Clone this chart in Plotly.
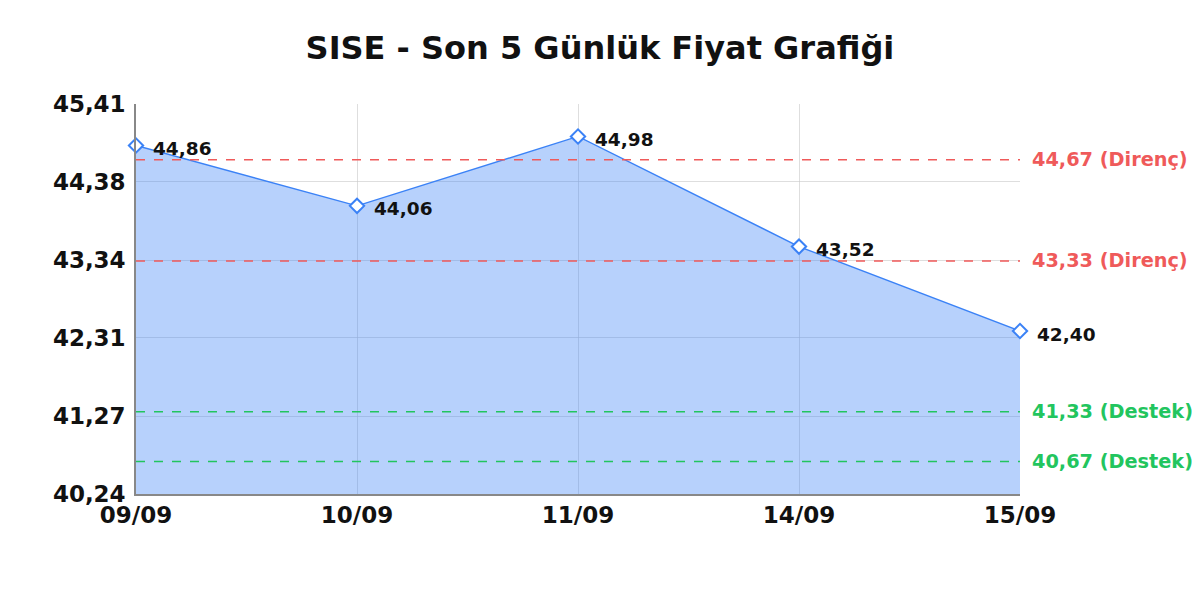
import plotly.graph_objects as go

dates = ["09/09", "10/09", "11/09", "14/09", "15/09"]
prices = [44.86, 44.06, 44.98, 43.52, 42.40]
price_labels = ["44,86", "44,06", "44,98", "43,52", "42,40"]
y_ticks = [40.24, 41.27, 42.31, 43.34, 44.38, 45.41]
y_tick_labels = ["40,24", "41,27", "42,31", "43,34", "44,38", "45,41"]
resistance = [44.67, 43.33]
resistance_labels = ["44,67 (Direnç)", "43,33 (Direnç)"]
support = [41.33, 40.67]
support_labels = ["41,33 (Destek)", "40,67 (Destek)"]

FONT = "DejaVu Sans"
BLUE = "#3b82f6"
RED = "#ef5a5a"
GREEN = "#22c55e"

x = list(range(len(dates)))

fig = go.Figure()
fig.add_trace(go.Scatter(
    x=x, y=prices, mode="lines+markers",
    fill="tozeroy", fillcolor="rgba(59,130,246,0.37)",
    line=dict(color=BLUE, width=1.4),
    marker=dict(symbol="diamond", size=11, color="white", line=dict(width=2, color=BLUE)),
    cliponaxis=False, showlegend=False,
))

shapes = []
annotations = []
for xi, p, lab in zip(x, prices, price_labels):
    annotations.append(dict(x=xi, y=p, xref="x", yref="y", text=lab, showarrow=False,
                            xanchor="left", yanchor="middle", xshift=15, yshift=-3,
                            font=dict(family=FONT, size=18.5, color="#111", weight="bold")))
for v, lab in zip(resistance, resistance_labels):
    shapes.append(dict(type="line", xref="paper", x0=0, x1=1, yref="y", y0=v, y1=v,
                       line=dict(color=RED, width=1.5, dash="dash"), layer="above"))
    annotations.append(dict(xref="paper", x=1.011, yref="y", y=v, text=lab, showarrow=False,
                            xanchor="left", yanchor="middle",
                            font=dict(family=FONT, size=19.3, color=RED, weight="bold")))
for v, lab in zip(support, support_labels):
    shapes.append(dict(type="line", xref="paper", x0=0, x1=1, yref="y", y0=v, y1=v,
                       line=dict(color=GREEN, width=1.5, dash="dash"), layer="above"))
    annotations.append(dict(xref="paper", x=1.011, yref="y", y=v, text=lab, showarrow=False,
                            xanchor="left", yanchor="middle",
                            font=dict(family=FONT, size=19.3, color=GREEN, weight="bold")))

fig.update_layout(
    width=1192, height=580,
    margin=dict(l=128, r=180, t=96, b=94),
    paper_bgcolor="white", plot_bgcolor="white",
    title=dict(text="SISE - Son 5 Günlük Fiyat Grafiği", x=0.4966, xanchor="center",
               y=0.931, yanchor="middle",
               font=dict(family=FONT, size=32, color="#111", weight="bold")),
    xaxis=dict(tickvals=x, ticktext=dates, range=[0, 4],
               showgrid=True, gridcolor="rgba(200,200,200,0.6)", gridwidth=1,
               showline=True, linecolor="#888", linewidth=1.5,
               ticks="", zeroline=False,
               tickfont=dict(family=FONT, size=23, color="#111", weight="bold")),
    yaxis=dict(tickvals=y_ticks, ticktext=y_tick_labels, range=[40.24, 45.41],
               showgrid=True, gridcolor="rgba(200,200,200,0.6)", gridwidth=1,
               showline=True, linecolor="#888", linewidth=1.5,
               ticks="", zeroline=False, ticklabelstandoff=4,
               tickfont=dict(family=FONT, size=23, color="#111", weight="bold")),
    shapes=shapes, annotations=annotations,
)
fig.write_html("out.html")
